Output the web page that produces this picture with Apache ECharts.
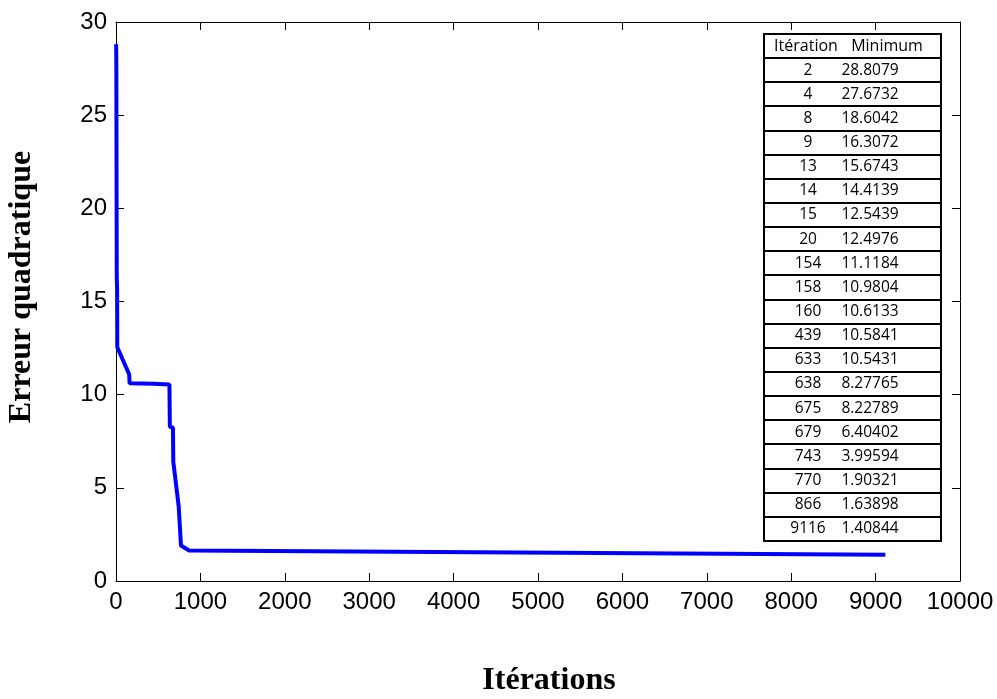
<!DOCTYPE html>
<html>
<head>
<meta charset="utf-8">
<script src="https://cdn.jsdelivr.net/npm/echarts@6/dist/echarts.min.js"></script>
<style>
html,body{margin:0;padding:0;background:#fff;}
#chart{width:997px;height:699px;}
</style>
</head>
<body>
<div id="chart"></div>
<script>
// Data
var iterations = [2, 4, 8, 9, 13, 14, 15, 20, 154, 158, 160, 439, 633, 638, 675, 679, 743, 770, 866, 9116];
var minimumLabels = ['28.8079','27.6732','18.6042','16.3072','15.6743','14.4139','12.5439','12.4976','11.1184','10.9804','10.6133','10.5841','10.5431','8.27765','8.22789','6.40402','3.99594','1.90321','1.63898','1.40844'];
var minimumValues = minimumLabels.map(Number);
var tableHeader = ['Itération', 'Minimum'];
var xAxisName = 'Itérations';
var yAxisName = 'Erreur quadratique';

var seriesData = iterations.map(function (it, i) { return [it, minimumValues[i]]; });

// Table layout
var tLeft = 764, tRight = 941, tTop = 34, tBottom = 541;
var nRows = iterations.length + 1;
var rowH = (tBottom - tTop) / nRows;
var col1 = 808, col2 = 870;
var headFont = '16px "Open Sans"';
var bodyFont = '15.5px "Open Sans"';

var tableChildren = [];
tableChildren.push({
  type: 'rect',
  shape: { x: tLeft, y: tTop, width: tRight - tLeft, height: tBottom - tTop },
  style: { fill: '#fff', stroke: '#000', lineWidth: 2 },
  z: 10
});
for (var r = 1; r < nRows; r++) {
  var yy = Math.round(tTop + r * rowH);
  tableChildren.push({
    type: 'line',
    shape: { x1: tLeft, y1: yy, x2: tRight, y2: yy },
    style: { stroke: '#000', lineWidth: 2 },
    z: 11
  });
}
tableChildren.push({
  type: 'text', z: 12,
  style: { text: tableHeader[0], x: 806, y: tTop + rowH / 2, font: headFont, fill: '#000', align: 'center', verticalAlign: 'middle' }
});
tableChildren.push({
  type: 'text', z: 12,
  style: { text: tableHeader[1], x: 887, y: tTop + rowH / 2, font: headFont, fill: '#000', align: 'center', verticalAlign: 'middle' }
});
for (var i = 0; i < iterations.length; i++) {
  var cy = tTop + (i + 1.5) * rowH;
  tableChildren.push({
    type: 'text', z: 12,
    style: { text: String(iterations[i]), x: col1, y: cy, font: bodyFont, fill: '#000', align: 'center', verticalAlign: 'middle' }
  });
  tableChildren.push({
    type: 'text', z: 12,
    style: { text: minimumLabels[i], x: col2, y: cy, font: bodyFont, fill: '#000', align: 'center', verticalAlign: 'middle' }
  });
}

var axisFont = { fontFamily: 'Liberation Sans', fontSize: 24, color: '#000', formatter: function (v) { return String(v); } };

function mkAxis(extra) {
  return Object.assign({
    type: 'value',
    axisLine: { show: true, onZero: false, lineStyle: { color: '#000', width: 1 } },
    axisTick: { show: true, inside: true, length: 8, lineStyle: { color: '#000' } },
    splitLine: { show: false }
  }, extra);
}

var chart = echarts.init(document.getElementById('chart'), null, { renderer: 'canvas' });
chart.setOption({
  animation: false,
  backgroundColor: '#fff',
  grid: { left: 116, right: 37, top: 22, bottom: 118, containLabel: false },
  xAxis: [
    mkAxis({ min: 0, max: 10000, interval: 1000, position: 'bottom', axisLabel: Object.assign({ margin: 9 }, axisFont) }),
    mkAxis({ min: 0, max: 10000, interval: 1000, position: 'top', axisLabel: { show: false } })
  ],
  yAxis: [
    mkAxis({ min: 0, max: 30, interval: 5, position: 'left', axisLabel: Object.assign({ margin: 9 }, axisFont) }),
    mkAxis({ min: 0, max: 30, interval: 5, position: 'right', axisLabel: { show: false } })
  ],
  series: [{
    type: 'line',
    xAxisIndex: 0,
    yAxisIndex: 0,
    data: seriesData,
    showSymbol: false,
    symbol: 'none',
    lineStyle: { color: '#0000ff', width: 4 },
    z: 3
  }],
  graphic: [
    {
      type: 'text', x: 22, y: 287, rotation: Math.PI / 2,
      style: { text: yAxisName, font: 'bold 32px "Liberation Serif"', fill: '#000', align: 'center', verticalAlign: 'middle' }
    },
    {
      type: 'text', x: 549, y: 681,
      style: { text: xAxisName, font: 'bold 32px "Liberation Serif"', fill: '#000', align: 'center', verticalAlign: 'middle' }
    },
    { type: 'group', children: tableChildren }
  ]
});
</script>
</body>
</html>
